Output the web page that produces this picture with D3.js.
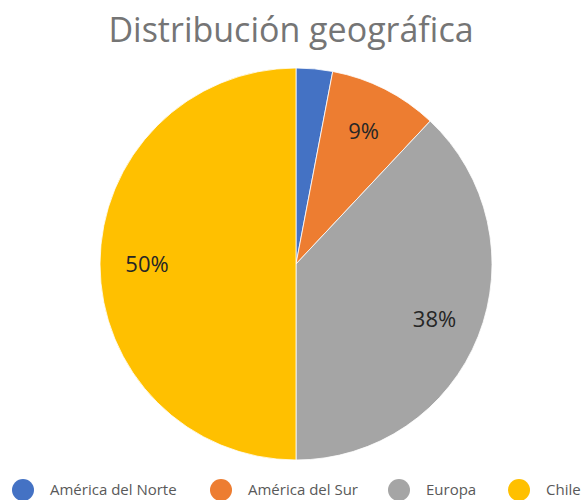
<!DOCTYPE html>
<html>
<head>
<meta charset="utf-8">
<script src="https://cdn.jsdelivr.net/npm/d3@7"></script>
<style>
  body { margin: 0; background: #fff; }
  text { font-family: "Open Sans", "Noto Sans", sans-serif; }
</style>
</head>
<body>
<div id="chart"></div>
<script>
var categories = ["América del Norte", "América del Sur", "Europa", "Chile"];
var values = [3, 9, 38, 50];
var colors = ["#4472C4", "#ED7D31", "#A5A5A5", "#FFC000"];
var showLabel = [false, true, true, true];

var width = 583, height = 500;
var cx = 296, cy = 264, radius = 196;

var svg = d3.select("#chart").append("svg")
    .attr("width", width)
    .attr("height", height);

svg.append("text")
    .attr("x", 291)
    .attr("y", 42)
    .attr("text-anchor", "middle")
    .style("font-size", "34px")
    .style("fill", "#757575")
    .text("Distribución geográfica");

var pie = d3.pie().sort(null).value(function(d) { return d; });
var arcs = pie(values);

var arc = d3.arc().innerRadius(0).outerRadius(radius);
var labelArc = d3.arc().innerRadius(radius * 0.76).outerRadius(radius * 0.76);

var g = svg.append("g").attr("transform", "translate(" + cx + "," + cy + ")");

g.selectAll(".slice")
    .data(arcs)
    .enter().append("path")
    .attr("class", "slice")
    .attr("d", arc)
    .style("fill", function(d, i) { return colors[i]; })
    .style("stroke", "#fff")
    .style("stroke-width", 0.8);

var total = d3.sum(values);
g.selectAll(".lbl")
    .data(arcs.filter(function(d, i) { return showLabel[i]; }))
    .enter().append("text")
    .attr("class", "lbl")
    .attr("transform", function(d) { return "translate(" + labelArc.centroid(d) + ")"; })
    .attr("text-anchor", "middle")
    .attr("dy", "0.35em")
    .style("font-size", "22px")
    .style("fill", "#262626")
    .text(function(d) { return Math.round(d.value / total * 100) + "%"; });

// legend
var legendX = [23, 221, 399, 519];
var legend = svg.selectAll(".legend")
    .data(categories)
    .enter().append("g")
    .attr("class", "legend")
    .attr("transform", function(d, i) { return "translate(" + legendX[i] + ",490)"; });

legend.append("circle")
    .attr("r", 11)
    .style("fill", function(d, i) { return colors[i]; });

legend.append("text")
    .attr("x", 27)
    .attr("dy", "0.35em")
    .style("font-size", "15px")
    .style("fill", "#595959")
    .text(function(d) { return d; });
</script>
</body>
</html>
